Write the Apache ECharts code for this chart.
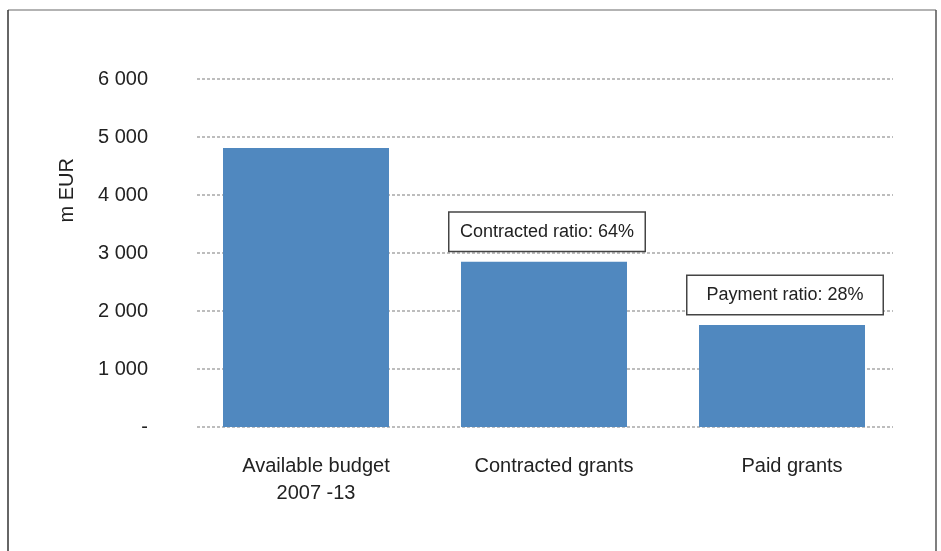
<!DOCTYPE html>
<html>
<head>
<meta charset="utf-8">
<script src="https://cdn.jsdelivr.net/npm/echarts@6/dist/echarts.min.js"></script>
<style>
  html, body { margin: 0; padding: 0; background: #fff; }
  #chart { width: 941px; height: 551px; }
</style>
</head>
<body>
<div id="chart"></div>
<script>
// data
const categories = ['Available budget\n2007 -13', 'Contracted grants', 'Paid grants'];
const values = [4810, 2850, 1760];
const notes = ['', 'Contracted ratio: 64%', 'Payment ratio: 28%'];
const yTicks = { min: 0, max: 6000, step: 1000 };

const barColor = '#5088bf';
const textColor = '#222';
const font = '"Liberation Sans", Arial, sans-serif';

const chart = echarts.init(document.getElementById('chart'), null, { renderer: 'canvas' });

// thousands with a space, zero shown as dash
const fmtTick = v => v === 0 ? '-' : String(v).replace(/\B(?=(\d{3})+(?!\d))/g, ' ');

const option = {
  animation: false,
  backgroundColor: '#fff',
  textStyle: { fontFamily: font },
  // grid 0: value labels + dotted gridlines, grid 1: bars (sits a bit wider, like the excel original)
  grid: [
    { left: 197, right: 48, top: 79, bottom: 124, containLabel: false },
    { left: 187, right: 40, top: 79, bottom: 124, containLabel: false }
  ],
  xAxis: [
    { type: 'category', gridIndex: 0, data: categories, show: false },
    {
      type: 'category',
      gridIndex: 1,
      data: categories,
      axisLine: { show: false },
      axisTick: { show: false },
      axisLabel: {
        color: textColor,
        fontSize: 20,
        lineHeight: 27,
        margin: 26,
        padding: [0, 0, 0, 20],
        fontFamily: font
      }
    }
  ],
  yAxis: [
    {
      type: 'value',
      gridIndex: 0,
      min: yTicks.min,
      max: yTicks.max,
      interval: yTicks.step,
      axisLine: { show: false },
      axisTick: { show: false },
      axisLabel: {
        color: textColor,
        fontSize: 20,
        margin: 49,
        fontFamily: font,
        formatter: fmtTick
      },
      splitLine: {
        lineStyle: { color: '#a8a8a8', width: 1.5, type: [3, 2] }
      }
    },
    {
      type: 'value',
      gridIndex: 1,
      min: yTicks.min,
      max: yTicks.max,
      interval: yTicks.step,
      show: false,
      splitLine: { show: false }
    }
  ],
  graphic: [
    // frame round the chart (no bottom edge visible)
    { type: 'line', shape: { x1: 8, y1: 10, x2: 936, y2: 10 }, style: { stroke: '#9a9a9a', lineWidth: 1.5 } },
    { type: 'line', shape: { x1: 8, y1: 10, x2: 8, y2: 551 }, style: { stroke: '#333', lineWidth: 1.5 } },
    { type: 'line', shape: { x1: 936, y1: 10, x2: 936, y2: 551 }, style: { stroke: '#555', lineWidth: 1.5 } },
    {
      type: 'text',
      left: 57,
      top: 158,
      rotation: Math.PI / 2,
      style: { text: 'm EUR', fill: textColor, font: '20px ' + font }
    }
  ],
  series: [
    {
      type: 'bar',
      xAxisIndex: 1,
      yAxisIndex: 1,
      barWidth: 166,
      itemStyle: { color: barColor },
      data: values.map((v, i) => ({
        value: v,
        label: notes[i] ? {
          show: true,
          position: 'top',
          distance: 11,
          offset: [3, 0],
          formatter: notes[i],
          color: textColor,
          fontSize: 18,
          fontFamily: font,
          backgroundColor: '#fff',
          borderColor: '#444',
          borderWidth: 1.5,
          width: 195,
          height: 38,
          lineHeight: 38,
          align: 'center',
          padding: 0
        } : { show: false }
      }))
    }
  ]
};

chart.setOption(option);
window.addEventListener('resize', () => chart.resize());
</script>
</body>
</html>
